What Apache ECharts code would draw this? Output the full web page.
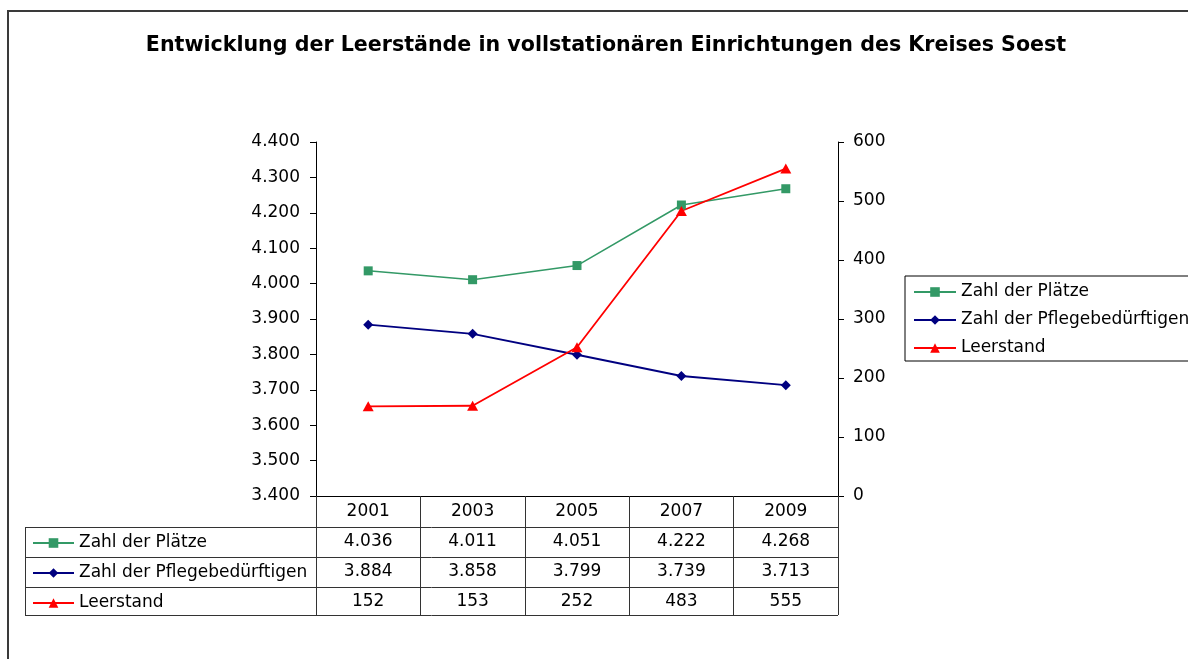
<!DOCTYPE html>
<html>
<head>
<meta charset="utf-8">
<script src="https://cdn.jsdelivr.net/npm/echarts@6/dist/echarts.min.js"></script>
<style>
    html, body { margin: 0; padding: 0; background: #fff; }
    #myChart { width: 1188px; height: 659px; }
</style>
</head>
<body>
<div id="myChart"></div>
<script>
    // Daten
    let years = ['2001', '2003', '2005', '2007', '2009'];
    let plaetze = [4036, 4011, 4051, 4222, 4268];
    let pflege = [3884, 3858, 3799, 3739, 3713];
    let leerstand = [152, 153, 252, 483, 555];
    let seriesNames = ['Zahl der Plätze', 'Zahl der Pflegebedürftigen', 'Leerstand'];
    let leftMin = 3400, leftMax = 4400, leftStep = 100;
    let rightMin = 0, rightMax = 600, rightStep = 100;

    let font = 'DejaVu Sans';
    let rowY = [542, 572, 601.5];

    // 4036 -> "4.036"
    function de(n) {
        if (n < 1000) return String(n);
        return Math.floor(n / 1000) + '.' + String(n % 1000).padStart(3, '0');
    }

    let txt = { color: '#000', fontFamily: font, fontSize: 17 };

    let option = {
        animation: false,
        backgroundColor: '#fff',
        title: {
            text: 'Entwicklung der Leerstände in vollstationären Einrichtungen des Kreises Soest',
            left: 606,
            textAlign: 'center',
            top: 35,
            padding: 0,
            textStyle: { color: '#000', fontFamily: font, fontSize: 20.6, fontWeight: 'bold' }
        },
        legend: [{
            data: seriesNames,
            orient: 'vertical',
            left: 905,
            top: 276,
            padding: [6, 8, 3, 8],
            itemWidth: 42,
            itemHeight: 12,
            itemGap: 8,
            borderColor: '#000',
            borderWidth: 1,
            selectedMode: false,
            textStyle: Object.assign({ lineHeight: 20 }, txt)
        }, {
            // Legendenschlüssel in der Datentabelle
            data: seriesNames,
            orient: 'vertical',
            left: 32,
            top: 533,
            padding: 0,
            itemWidth: 41,
            itemHeight: 12,
            itemGap: 10,
            selectedMode: false,
            textStyle: Object.assign({ lineHeight: 20 }, txt)
        }],
        grid: {
            left: 316,
            top: 142,
            width: 522,
            height: 354
        },
        xAxis: {
            type: 'category',
            data: years,
            boundaryGap: true,
            axisLine: { lineStyle: { color: '#000', width: 1 } },
            axisTick: { show: true, length: 119, lineStyle: { color: '#333' } },
            axisLabel: Object.assign({ margin: 7 }, txt),
            splitLine: { show: false }
        },
        yAxis: [{
            type: 'value',
            position: 'left',
            min: leftMin, max: leftMax, interval: leftStep,
            axisLine: { show: true, onZero: false, lineStyle: { color: '#000' } },
            axisTick: { show: true, length: 6, lineStyle: { color: '#000' } },
            axisLabel: Object.assign({ margin: 16, formatter: de }, txt),
            splitLine: { show: false }
        }, {
            type: 'value',
            position: 'right',
            min: rightMin, max: rightMax, interval: rightStep,
            axisLine: { show: true, onZero: false, lineStyle: { color: '#000' } },
            axisTick: { show: true, length: 6, lineStyle: { color: '#000' } },
            axisLabel: Object.assign({ margin: 15 }, txt),
            splitLine: { show: false }
        }],
        series: [{
            name: seriesNames[0],
            type: 'line',
            yAxisIndex: 0,
            data: plaetze,
            symbol: 'rect',
            symbolSize: 9,
            lineStyle: { color: '#339966', width: 1.5 },
            itemStyle: { color: '#339966' }
        }, {
            name: seriesNames[1],
            type: 'line',
            yAxisIndex: 0,
            data: pflege,
            symbol: 'diamond',
            symbolSize: 10,
            lineStyle: { color: '#000080', width: 1.8 },
            itemStyle: { color: '#000080' }
        }, {
            name: seriesNames[2],
            type: 'line',
            yAxisIndex: 1,
            data: leerstand,
            symbol: 'triangle',
            symbolSize: [11, 10],
            lineStyle: { color: '#ff0000', width: 1.8 },
            itemStyle: { color: '#ff0000' }
        }]
    };

    let myChart = echarts.init(document.getElementById('myChart'), null, { renderer: 'canvas' });
    myChart.setOption(option);

    // Datentabelle unter dem Diagramm
    let tableLine = { stroke: '#333', lineWidth: 1 };
    let elements = [{
        type: 'rect',
        shape: { x: 8, y: 11, width: 1220, height: 700 },
        style: { fill: null, stroke: '#3a3a3a', lineWidth: 2 },
        silent: true
    }];
    [527, 557, 587, 615].forEach(y => {
        elements.push({ type: 'line', shape: { x1: 25, y1: y + 0.5, x2: 838, y2: y + 0.5 }, style: tableLine });
    });
    elements.push({ type: 'line', shape: { x1: 25.5, y1: 527, x2: 25.5, y2: 615 }, style: tableLine });

    let rows = [plaetze, pflege, leerstand];
    rows.forEach((row, r) => {
        row.forEach((v, i) => {
            let x = myChart.convertToPixel({ xAxisIndex: 0 }, i);
            elements.push({
                type: 'text',
                x: x,
                y: rowY[r],
                style: {
                    text: de(v),
                    fill: '#000',
                    font: '17px "' + font + '"',
                    align: 'center',
                    verticalAlign: 'middle'
                }
            });
        });
    });
    myChart.setOption({ graphic: elements });
</script>
</body>
</html>
